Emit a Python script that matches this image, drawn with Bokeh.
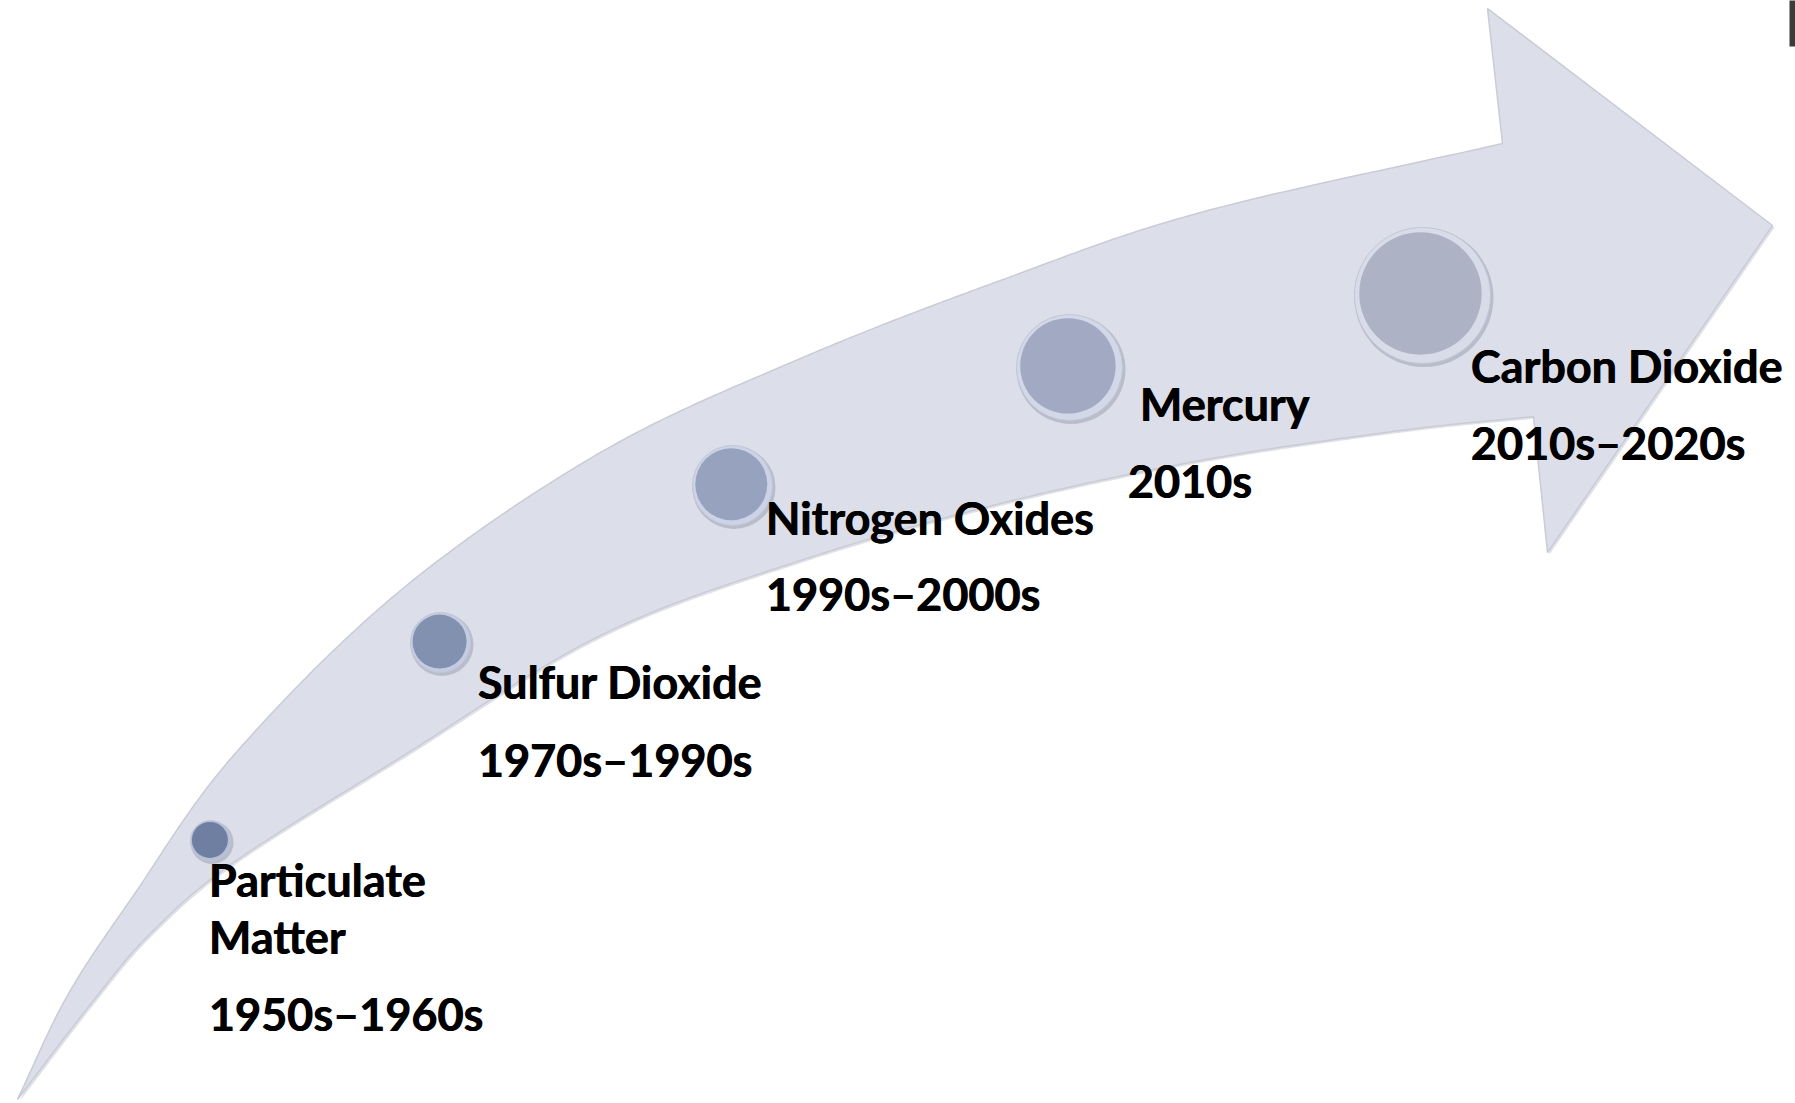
import numpy as np
from bokeh.plotting import figure
from bokeh.models import Range1d, ColumnDataSource
from bokeh.core.properties import value
from bokeh.embed import file_html
from bokeh.resources import INLINE

# ---- data ----
pollutants = ["Particulate\nMatter", "Sulfur Dioxide", "Nitrogen Oxides", "Mercury", "Carbon Dioxide"]
periods = ["1950s–1960s", "1970s–1990s", "1990s–2000s", "2010s", "2010s–2020s"]

# ---- layout (pixel-like coordinates, y downward) ----
W, H = 1795, 1103
circle_x = [210, 440, 732, 1069, 1422]
circle_y = [840, 642, 485, 367, 295]
circle_r = [20, 30, 40, 53, 68]
circle_fill = ["#6f7fa1", "#8391b1", "#97a2bf", "#a2a9c2", "#aeb2c5"]
circle_rim = ["#b4bfd8", "#c3cce2", "#ccd3e6", "#d3d8e8", "#d8dbe8"]
name_x = [208, 477, 765, 1139, 1470]
name_base = [879, 681, 517, 403, 365]
period_x = [208, 477, 765, 1127, 1470]
period_base = [1013, 759, 593, 480, 442]
line_gap = 57

upper_edge = [(17, 1099), (67, 995), (133, 895), (233, 755), (400, 590), (600, 452),
              (800, 358), (1000, 280), (1200, 212), (1502, 143)]
lower_edge = [(17, 1099), (93, 1000), (150, 933), (233, 862), (400, 757), (600, 635),
              (800, 560), (1000, 503), (1200, 460), (1400, 430), (1533, 416)]
head = [(1487, 8), (1772, 225), (1547, 552)]


def catmull(points, n=40):
    pts = np.array(points, float)
    ext = np.vstack([2 * pts[0] - pts[1], pts, 2 * pts[-1] - pts[-2]])
    out = []
    for i in range(1, len(ext) - 2):
        p0, p1, p2, p3 = ext[i - 1], ext[i], ext[i + 1], ext[i + 2]
        t = np.linspace(0, 1, n, endpoint=False)[:, None]
        out.append(0.5 * ((2 * p1) + (-p0 + p2) * t + (2 * p0 - 5 * p1 + 4 * p2 - p3) * t ** 2
                          + (-p0 + 3 * p1 - 3 * p2 + p3) * t ** 3))
    out.append(pts[-1:])
    return np.vstack(out)


up = catmull(upper_edge)
lo = catmull(lower_edge)
outline = np.vstack([up, np.array(head), lo[::-1]])

p = figure(width=W, height=H, x_range=Range1d(0, W), y_range=Range1d(H, 0),
           output_backend="svg", toolbar_location=None, min_border=0)
p.axis.visible = False
p.grid.visible = False
p.outline_line_color = None
p.background_fill_color = "white"
p.border_fill_color = "white"

# soft shadow of arrow
p.patch(outline[:, 0] + 2, outline[:, 1] + 2, fill_color="#b9bcc8", fill_alpha=0.45, line_color=None)
# arrow body
p.patch(outline[:, 0], outline[:, 1], fill_color="#dcdee9", line_color="#c9cbd6", line_width=1.5)

# corner artifact (top right)
p.quad(left=[1789], right=[1800], top=[-5], bottom=[46], fill_color="#3b3b3b", line_color=None)

# circles
src = ColumnDataSource(dict(x=circle_x, y=circle_y, r=circle_r, fill=circle_fill, rim=circle_rim,
                            xs=[x + 1.5 for x in circle_x], ys=[y + 2 for y in circle_y],
                            rs=[r + 1.5 for r in circle_r],
                            ri=[r * 0.9 for r in circle_r],
                            xi=[x - r * 0.03 for x, r in zip(circle_x, circle_r)],
                            yi=[y - r * 0.03 for y, r in zip(circle_y, circle_r)]))
p.circle(x="xs", y="ys", radius="rs", source=src, fill_color="#8d92a3", fill_alpha=0.45, line_color=None)
p.circle(x="x", y="y", radius="r", source=src, fill_color="rim", line_color="#c2c6d4", line_width=1)
p.circle(x="xi", y="yi", radius="ri", source=src, fill_color="fill", line_color=None)

# labels
tx, ty, tt = [], [], []
for i, name in enumerate(pollutants):
    for j, line in enumerate(name.split("\n")):
        tx.append(name_x[i])
        ty.append(name_base[i] + j * line_gap)
        tt.append(line)
for i, per in enumerate(periods):
    tx.append(period_x[i])
    ty.append(period_base[i])
    tt.append(per)

for dx in (0, 0.8):
    p.text(x=[v + dx for v in tx], y=ty, text=tt, text_font=value("Lato"), text_font_style="bold",
           text_font_size="45px", text_color="black", text_baseline="alphabetic", text_align="left")

open("out.html", "w").write(file_html(p, INLINE))
